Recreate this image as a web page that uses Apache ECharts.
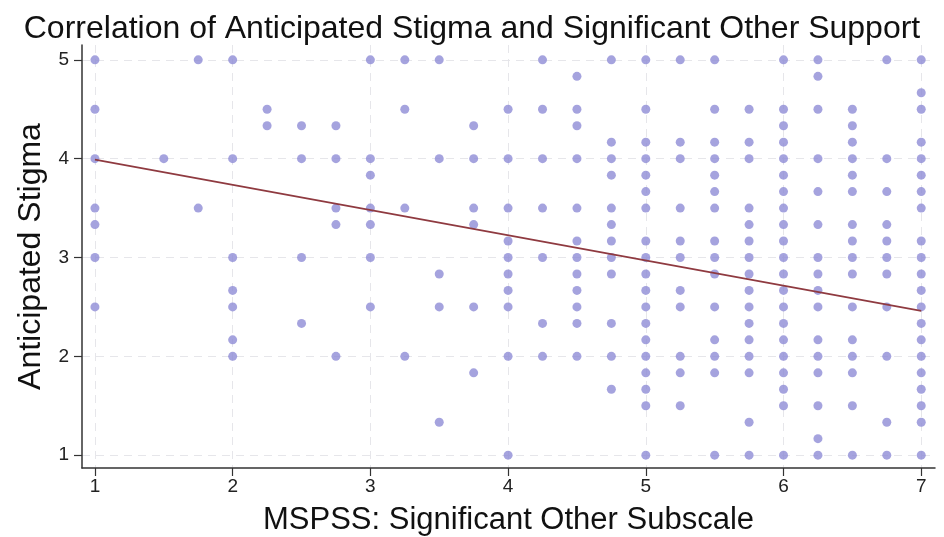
<!DOCTYPE html>
<html>
<head>
<meta charset="utf-8">
<script src="https://cdn.jsdelivr.net/npm/echarts@6/dist/echarts.min.js"></script>
<style>
html,body{margin:0;padding:0;background:#fff;}
#chart{width:944px;height:537px;}
</style>
</head>
<body>
<div id="chart"></div>
<script>
// Data
const titleText = 'Correlation of Anticipated Stigma and Significant Other Support';
const xAxisName = 'MSPSS: Significant Other Subscale';
const yAxisName = 'Anticipated Stigma';
const xTickLabels = [1, 2, 3, 4, 5, 6, 7];
const yTickLabels = [1, 2, 3, 4, 5];

const xLevels = [1, 1.25, 1.5, 1.75, 2, 2.25, 2.5, 2.75, 3, 3.25, 3.5, 3.75, 4, 4.25, 4.5, 4.75, 5, 5.25, 5.5, 5.75, 6, 6.25, 6.5, 6.75, 7];
const yByColumn = [
  [5, 4.5, 4, 3.5, 3.333, 3, 2.5],
  [],
  [4],
  [5, 3.5],
  [5, 4, 3, 2.667, 2.5, 2.167, 2],
  [4.5, 4.333],
  [4.333, 4, 3, 2.333],
  [4.333, 4, 3.5, 3.333, 2],
  [5, 4, 3.833, 3.5, 3.333, 3, 2.5],
  [5, 4.5, 3.5, 2],
  [5, 4, 2.833, 2.5, 1.333],
  [4.333, 4, 3.5, 3.333, 2.5, 1.833],
  [4.5, 4, 3.5, 3.167, 3, 2.833, 2.667, 2.5, 2, 1],
  [5, 4.5, 4, 3.5, 3, 2.333, 2],
  [4.833, 4.5, 4.333, 4, 3.5, 3.167, 3, 2.833, 2.667, 2.5, 2.333, 2],
  [5, 4.167, 4, 3.833, 3.5, 3.333, 3.167, 3, 2.833, 2.333, 2, 1.667],
  [5, 4.5, 4.167, 4, 3.833, 3.667, 3.5, 3.167, 3, 2.833, 2.667, 2.5, 2.333, 2.167, 2, 1.833, 1.667, 1.5, 1],
  [5, 4.167, 4, 3.5, 3.167, 3, 2.667, 2.5, 2, 1.833, 1.5],
  [5, 4.5, 4.167, 4, 3.833, 3.667, 3.5, 3.167, 3, 2.833, 2.5, 2.167, 2, 1.833, 1],
  [4.5, 4.167, 4, 3.5, 3.333, 3.167, 3, 2.833, 2.667, 2.5, 2.333, 2.167, 2, 1.833, 1.333, 1],
  [5, 4.5, 4.333, 4.167, 4, 3.833, 3.667, 3.5, 3.333, 3.167, 3, 2.833, 2.667, 2.5, 2.333, 2.167, 2, 1.833, 1.667, 1.5, 1],
  [5, 4.833, 4.5, 4, 3.667, 3.333, 3, 2.833, 2.667, 2.5, 2.167, 2, 1.833, 1.5, 1.167, 1],
  [4.5, 4.333, 4.167, 4, 3.833, 3.667, 3.333, 3.167, 3, 2.833, 2.5, 2.167, 2, 1.833, 1.5, 1],
  [5, 4, 3.667, 3.333, 3.167, 3, 2.833, 2.5, 2, 1.333, 1],
  [5, 4.667, 4.5, 4.167, 4, 3.833, 3.667, 3.5, 3.167, 3, 2.833, 2.667, 2.5, 2.333, 2.167, 2, 1.833, 1.667, 1.5, 1.333, 1]
];
// Fitted line endpoints
const fitX = [1, 7];
const fitY = [3.99, 2.46];

const scatterData = [];
xLevels.forEach((x, i) => { yByColumn[i].forEach(y => scatterData.push([x, y])); });
const fitData = fitX.map((x, i) => [x, fitY[i]]);

const FONT = 'Liberation Sans, Arial, Helvetica, sans-serif';
const chart = echarts.init(document.getElementById('chart'), null, {renderer: 'canvas'});
chart.setOption({
  animation: false,
  backgroundColor: '#ffffff',
  title: {
    text: titleText, left: 'center', top: 8,
    textStyle: {fontFamily: FONT, fontSize: 32, fontWeight: 'normal', color: '#111'}
  },
  grid: {left: 82, right: 9, top: 45, bottom: 69, containLabel: false, outerBoundsMode: 'none'},
  xAxis: {
    type: 'value', min: 0.906, max: 7.1,
    name: xAxisName, nameLocation: 'middle', nameGap: 37,
    nameTextStyle: {fontFamily: FONT, fontSize: 31, color: '#111'},
    axisLine: {show: true, onZero: false, lineStyle: {color: '#333', width: 1.5}},
    axisTick: {show: true, length: 8, customValues: xTickLabels, lineStyle: {color: '#333', width: 1.2}},
    axisLabel: {customValues: xTickLabels, fontFamily: FONT, fontSize: 19, color: '#222', margin: 9},
    splitLine: {show: true, lineStyle: {color: '#e6e6ea', type: [8, 6], width: 1}}
  },
  yAxis: {
    type: 'value', min: 0.87, max: 5.15,
    name: yAxisName, nameLocation: 'middle', nameGap: 29, nameRotate: 90,
    nameTextStyle: {fontFamily: FONT, fontSize: 32, color: '#111'},
    axisLine: {show: true, onZero: false, lineStyle: {color: '#333', width: 1.5}},
    axisTick: {show: true, length: 8, customValues: yTickLabels, lineStyle: {color: '#333', width: 1.2}},
    axisLabel: {customValues: yTickLabels, fontFamily: FONT, fontSize: 19, color: '#222', margin: 13},
    splitLine: {show: true, lineStyle: {color: '#e6e6ea', type: [8, 6], width: 1}}
  },
  series: [
    {
      type: 'scatter', data: scatterData, symbol: 'circle', symbolSize: 9,
      itemStyle: {color: '#8e8cd6'}, z: 2
    },
    {
      type: 'line', data: fitData, symbol: 'none',
      lineStyle: {color: '#8f3a40', width: 1.6}, z: 3
    }
  ]
});
</script>
</body>
</html>
